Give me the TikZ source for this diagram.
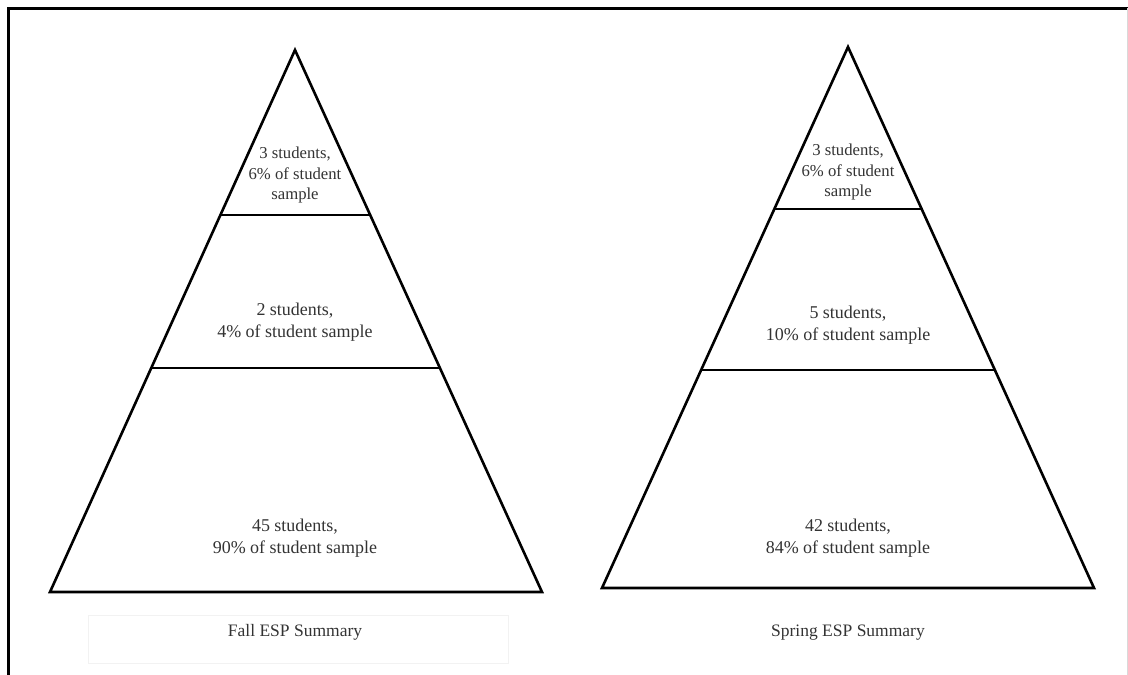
\documentclass[tikz,border=0pt]{standalone}
\usepackage{fontspec}
\setmainfont{Liberation Serif}
\usetikzlibrary{calc,positioning}

\begin{document}
\begin{tikzpicture}
      [ x=1pt, y=-1pt,
        tri/.style={line width=2.6pt, line join=miter},
        band/.style={line width=2.3pt},
        lbl/.style={align=center, text=black!80, inner sep=0pt,
                    font=\fontsize{18}{21.5}\selectfont},
        toplbl/.style={lbl, font=\fontsize{16.7}{20.5}\selectfont},
        caption/.style={text=black!80, inner sep=0pt,
                        font=\fontsize{17.5}{20}\selectfont}
      ]
      \useasboundingbox (0,0) rectangle (1128,675);
      % frame
      \draw[line width=3pt] (8,675) -- (8,8) -- (1128,8);
      \draw[black!15, line width=0.8pt] (1127,8) -- (1127,675);

      % fall pyramid
      \coordinate (fapex)  at (295,50);
      \coordinate (fleft)  at (50,592);
      \coordinate (fright) at (542,592);
      \draw[tri] (fapex) -- (fleft) -- (fright) -- cycle;
      \draw[band] ($(fapex)!0.3044!(fleft)$) -- ($(fapex)!0.3044!(fright)$);
      \draw[band] ($(fapex)!0.5867!(fleft)$) -- ($(fapex)!0.5867!(fright)$);

      \node[toplbl] (ftop) at (295,175) {3 students,\\6\% of student\\sample};
      \node[lbl]    (fmid) at (295,322) {2 students,\\4\% of student sample};
      \node[lbl]    (fbot) at (295,538) {45 students,\\90\% of student sample};
      \draw[black!5, line width=0.8pt] (88,615) rectangle (508,663);
      \node[caption] (fcap) at (295,632) {Fall ESP Summary};

      % spring pyramid
      \coordinate (sapex)  at (848,47);
      \coordinate (sleft)  at (602,588);
      \coordinate (sright) at (1094,588);
      \draw[tri] (sapex) -- (sleft) -- (sright) -- cycle;
      \draw[band] ($(sapex)!0.2994!(sleft)$) -- ($(sapex)!0.2994!(sright)$);
      \draw[band] ($(sapex)!0.5970!(sleft)$) -- ($(sapex)!0.5970!(sright)$);

      \node[toplbl] (stop) at (848,172) {3 students,\\6\% of student\\sample};
      \node[lbl]    (smid) at (848,325) {5 students,\\10\% of student sample};
      \node[lbl]    (sbot) at (848,538) {42 students,\\84\% of student sample};
      \node[caption] (scap) at (848,633) {Spring ESP Summary};
\end{tikzpicture}
\end{document}
